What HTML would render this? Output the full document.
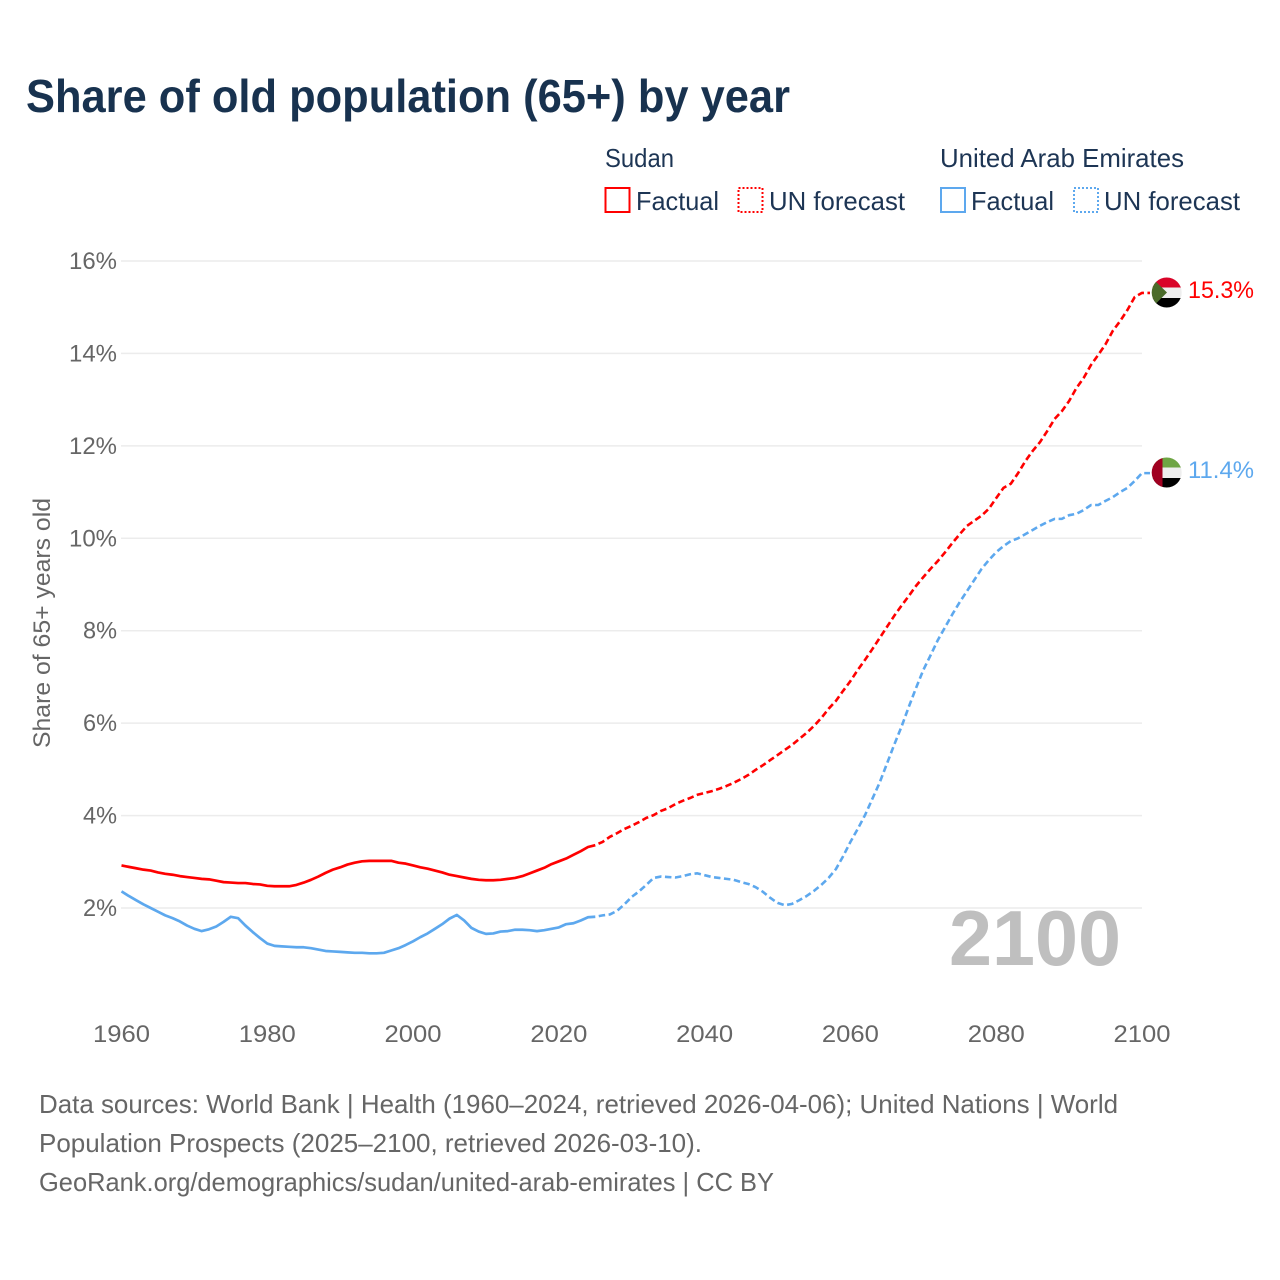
<!DOCTYPE html>
<html lang="en">
<head>
<meta charset="utf-8">
<title>Share of old population (65+) by year</title>
<style>
html,body{margin:0;padding:0;background:#fff;}
svg{display:block;font-family:"Liberation Sans",sans-serif;}
</style>
</head>
<body>
<svg id="chart" xmlns="http://www.w3.org/2000/svg" width="1280" height="1280" viewBox="0 0 1280 1280">
  <rect x="0" y="0" width="1280" height="1280" fill="#fff"/>
  <text x="26" y="112" font-size="46" font-weight="700" fill="#18324f" textLength="764" lengthAdjust="spacingAndGlyphs">Share of old population (65+) by year</text>

  <g font-size="26" fill="#1d3554">
    <text x="605" y="167" textLength="69" lengthAdjust="spacingAndGlyphs">Sudan</text>
    <text x="940" y="167" textLength="244" lengthAdjust="spacingAndGlyphs">United Arab Emirates</text>
    <rect x="605.5" y="188" width="24" height="24" fill="none" stroke="#ff0000" stroke-width="2"/>
    <text x="636" y="210" textLength="83" lengthAdjust="spacingAndGlyphs">Factual</text>
    <rect x="738.5" y="188" width="24" height="24" fill="none" stroke="#ff0000" stroke-width="2" stroke-dasharray="2 2"/>
    <text x="769" y="210" textLength="136" lengthAdjust="spacingAndGlyphs">UN forecast</text>
    <rect x="941" y="188" width="24" height="24" fill="none" stroke="#5da8ee" stroke-width="2"/>
    <text x="971" y="210" textLength="83" lengthAdjust="spacingAndGlyphs">Factual</text>
    <rect x="1074" y="188" width="24" height="24" fill="none" stroke="#5da8ee" stroke-width="2" stroke-dasharray="2 2"/>
    <text x="1104" y="210" textLength="136" lengthAdjust="spacingAndGlyphs">UN forecast</text>
  </g>

  <g id="grid"></g>
  <g id="yticks"></g>
  <g id="xticks"></g>

  <text transform="translate(50,748) rotate(-90)" x="0" y="0" font-size="24.5" fill="#666" textLength="250" lengthAdjust="spacingAndGlyphs">Share of 65+ years old</text>
  <text x="949" y="965" font-size="78" font-weight="700" fill="#bfbfbf" textLength="172" lengthAdjust="spacingAndGlyphs">2100</text>

  <g id="series"></g>

  <defs>
    <clipPath id="clip-sudan"><circle cx="1166.7" cy="292.5" r="15"/></clipPath>
    <clipPath id="clip-uae"><circle cx="1166.7" cy="472.5" r="15"/></clipPath>
  </defs>
  <g clip-path="url(#clip-sudan)">
    <rect x="1151" y="277" width="32" height="11" fill="#d90429"/>
    <rect x="1151" y="287.5" width="32" height="10.5" fill="#eeeeee"/>
    <rect x="1151" y="298" width="32" height="11" fill="#000"/>
    <polygon points="1151,277 1167,292.5 1151,308.5" fill="#4a6b2a"/>
  </g>
  <g clip-path="url(#clip-uae)">
    <rect x="1151" y="457" width="32" height="11" fill="#6ea544"/>
    <rect x="1151" y="467.5" width="32" height="10.5" fill="#eeeeee"/>
    <rect x="1151" y="478" width="32" height="11" fill="#000"/>
    <rect x="1151" y="457" width="11.5" height="32" fill="#a00020"/>
  </g>
  <text x="1188" y="298" font-size="24.5" fill="#ff0000" textLength="66" lengthAdjust="spacingAndGlyphs">15.3%</text>
  <text x="1188" y="478" font-size="24.5" fill="#5da8ee" textLength="66" lengthAdjust="spacingAndGlyphs">11.4%</text>

  <g font-size="26" fill="#666">
    <text x="39" y="1113" textLength="1079" lengthAdjust="spacingAndGlyphs">Data sources: World Bank | Health (1960–2024, retrieved 2026-04-06); United Nations | World</text>
    <text x="39" y="1152" textLength="663" lengthAdjust="spacingAndGlyphs">Population Prospects (2025–2100, retrieved 2026-03-10).</text>
    <text x="39" y="1191" textLength="735" lengthAdjust="spacingAndGlyphs">GeoRank.org/demographics/sudan/united-arab-emirates | CC BY</text>
  </g>
</svg>
<script>
var yTickValues = [2, 4, 6, 8, 10, 12, 14, 16];
var xTickYears = [1960, 1980, 2000, 2020, 2040, 2060, 2080, 2100];
var factualStartYear = 1960;
var forecastStartYear = 2025;

var sudanFactual = [
  2.92,2.89,2.86,2.83,2.81,2.77,2.74,2.72,2.69,2.67,
  2.65,2.63,2.62,2.59,2.56,2.55,2.54,2.54,2.52,2.51,
  2.48,2.47,2.47,2.47,2.50,2.55,2.61,2.68,2.76,2.83,
  2.88,2.94,2.98,3.01,3.02,3.02,3.02,3.02,2.98,2.96,
  2.92,2.88,2.85,2.81,2.77,2.72,2.69,2.66,2.63,2.61,
  2.60,2.60,2.61,2.63,2.65,2.69,2.75,2.81,2.87,2.95,
  3.01,3.07,3.15,3.23,3.32,3.36
];
var sudanForecast = [
  3.36,3.43,3.54,3.62,3.71,
  3.78,3.86,3.95,4.01,4.10,4.16,4.25,4.32,4.38,4.45,
  4.49,4.53,4.58,4.64,4.71,4.79,4.88,4.99,5.09,5.20,
  5.31,5.42,5.53,5.66,5.79,5.94,6.11,6.31,6.48,6.70,
  6.91,7.15,7.37,7.60,7.84,8.08,8.32,8.54,8.75,8.97,
  9.16,9.34,9.51,9.70,9.90,10.09,10.27,10.38,10.49,10.64,
  10.87,11.09,11.18,11.41,11.67,11.89,12.08,12.32,12.58,12.75,
  12.97,13.25,13.47,13.75,13.97,14.20,14.49,14.70,14.94,15.22,
  15.31
];
var uaeFactual = [
  2.36,2.26,2.17,2.08,2.00,1.92,1.84,1.78,1.71,1.62,
  1.55,1.50,1.54,1.60,1.70,1.81,1.78,1.62,1.48,1.35,
  1.23,1.18,1.17,1.16,1.15,1.15,1.13,1.10,1.07,1.06,
  1.05,1.04,1.03,1.03,1.02,1.02,1.03,1.08,1.13,1.20,
  1.28,1.37,1.45,1.55,1.65,1.77,1.85,1.73,1.57,1.49,
  1.44,1.45,1.49,1.50,1.53,1.53,1.52,1.50,1.52,1.55,
  1.58,1.65,1.67,1.73,1.80,1.81
];
var uaeForecast = [
  1.81,1.84,1.86,1.94,2.08,
  2.24,2.36,2.50,2.65,2.68,2.67,2.66,2.69,2.73,2.75,
  2.71,2.67,2.65,2.63,2.61,2.56,2.52,2.45,2.35,2.22,
  2.11,2.06,2.09,2.17,2.26,2.37,2.50,2.65,2.84,3.12,
  3.43,3.71,4.01,4.36,4.71,5.12,5.53,5.92,6.35,6.76,
  7.15,7.47,7.80,8.08,8.36,8.62,8.86,9.10,9.34,9.53,
  9.70,9.83,9.94,10.00,10.09,10.18,10.27,10.35,10.42,10.42,
  10.50,10.53,10.61,10.72,10.72,10.81,10.89,11.00,11.09,11.24,
  11.41
];

var NS = 'http://www.w3.org/2000/svg';
function xScale(year) { return 121.5 + (year - 1960) * (1142 - 121.5) / 140; }
function yScale(v) { return 908 - (v - 2) * (908 - 261) / 14; }

function make(tag, attrs, parent) {
  var el = document.createElementNS(NS, tag);
  for (var k in attrs) { el.setAttribute(k, attrs[k]); }
  parent.appendChild(el);
  return el;
}

var gridG = document.getElementById('grid');
var yG = document.getElementById('yticks');
var xG = document.getElementById('xticks');
var seriesG = document.getElementById('series');

yTickValues.forEach(function (v) {
  var y = yScale(v);
  var line = make('line', { x1: 121, x2: 1142, y1: y, y2: y, stroke: '#ececec', 'stroke-width': 1.5 }, gridG);
  
  
  var label = String(v) + '%';
  var t = make('text', {
    x: 117, y: y + 8, 'text-anchor': 'end', 'font-size': 24.5, fill: '#666',
    textLength: label.length === 2 ? 34 : 48, lengthAdjust: 'spacingAndGlyphs'
  }, yG);
  t.textContent = label;
  
  
});

xTickYears.forEach(function (yr) {
  var t = make('text', {
    x: xScale(yr), y: 1042, 'text-anchor': 'middle', 'font-size': 24.5, fill: '#666',
    textLength: 57, lengthAdjust: 'spacingAndGlyphs'
  }, xG);
  t.textContent = String(yr);
  
  
});

function pathFor(values, startYear, extendTo) {
  var d = values.map(function (v, i) {
    return (i ? 'L' : 'M') + xScale(startYear + i).toFixed(2) + ' ' + yScale(v).toFixed(2);
  }).join(' ');
  if (extendTo) {
    d += ' L' + extendTo + ' ' + yScale(values[values.length - 1]).toFixed(2);
  }
  return d;
}

var sudanFactualLine = make('path', { d: pathFor(sudanFactual, factualStartYear), fill: 'none', stroke: '#ff0000', 'stroke-width': 2.7, 'stroke-linejoin': 'round' }, seriesG);



var sudanForecastLine = make('path', { d: pathFor(sudanForecast, forecastStartYear, 1150), fill: 'none', stroke: '#ff0000', 'stroke-width': 2.6, 'stroke-dasharray': '6.5 3.5', 'stroke-dashoffset': '6.5', 'stroke-linejoin': 'round' }, seriesG);



var uaeFactualLine = make('path', { d: pathFor(uaeFactual, factualStartYear), fill: 'none', stroke: '#5da8ee', 'stroke-width': 2.7, 'stroke-linejoin': 'round' }, seriesG);



var uaeForecastLine = make('path', { d: pathFor(uaeForecast, forecastStartYear, 1150), fill: 'none', stroke: '#5da8ee', 'stroke-width': 2.6, 'stroke-dasharray': '6.5 3.5', 'stroke-dashoffset': '6.5', 'stroke-linejoin': 'round' }, seriesG);


</script>
</body>
</html>
